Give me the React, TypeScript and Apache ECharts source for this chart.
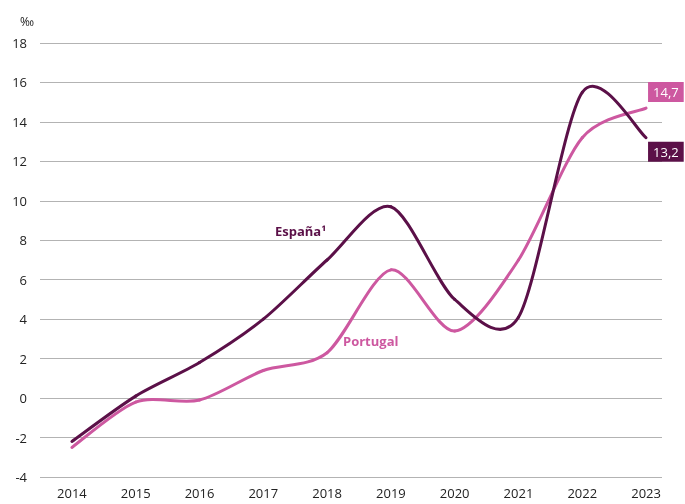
import React, { useEffect, useRef } from "react";
import * as echarts from "echarts";

const years = [2014, 2015, 2016, 2017, 2018, 2019, 2020, 2021, 2022, 2023];
const espana = [-2.2, 0.1, 1.8, 4.0, 7.0, 9.7, 5.0, 4.1, 15.5, 13.2];
const portugal = [-2.5, -0.2, -0.1, 1.4, 2.3, 6.5, 3.4, 7.0, 13.2, 14.7];
const espanaName = "España¹";
const portugalName = "Portugal";

const DARK = "#5b1048";
const PINK = "#cd58a0";
const FONT = "Open Sans";
const TENSION = 1 / 7;

function makeSeries(name: string, vals: number[], color: string, labelDy: number, z: number) {
  return {
    type: "custom",
    name,
    z,
    clip: false,
    data: vals.map((v, i) => [years[i], v]),
    encode: { x: 0, y: 1 },
    renderItem: (params: any, api: any) => {
      const i = params.dataIndex;
      const n = vals.length;
      const P = (k: number) => {
        const kk = Math.max(0, Math.min(n - 1, k));
        return api.coord([years[kk], vals[kk]]);
      };
      const children: any[] = [];
      if (i < n - 1) {
        const p0 = P(i - 1);
        const p1 = P(i);
        const p2 = P(i + 1);
        const p3 = P(i + 2);
        const c1x = p1[0] + (p2[0] - p0[0]) * TENSION;
        const c1y = p1[1] + (p2[1] - p0[1]) * TENSION;
        const c2x = p2[0] - (p3[0] - p1[0]) * TENSION;
        const c2y = p2[1] - (p3[1] - p1[1]) * TENSION;
        children.push({
          type: "bezierCurve",
          shape: {
            x1: p1[0], y1: p1[1],
            cpx1: c1x, cpy1: c1y,
            cpx2: c2x, cpy2: c2y,
            x2: p2[0], y2: p2[1],
          },
          style: { stroke: color, fill: null, lineWidth: 3, lineCap: "round" },
        });
      } else {
        const p = P(i);
        children.push({
          type: "text",
          x: p[0] + 2,
          y: p[1] + labelDy,
          style: {
            text: vals[i].toFixed(1).replace(".", ","),
            fill: "#fff",
            backgroundColor: color,
            padding: [4, 5, 3, 5],
            font: `13px "${FONT}"`,
            align: "left",
            verticalAlign: "middle",
          },
        });
      }
      return { type: "group", children };
    },
  };
}

export default function App() {
  const ref = useRef<HTMLDivElement>(null);
  useEffect(() => {
    if (!ref.current) return;
    const chart = echarts.init(ref.current, null, { renderer: "svg" });
    chart.setOption({
      animation: false,
      grid: { left: 40, right: 23, top: 43, bottom: 27, containLabel: false },
      xAxis: {
        type: "value",
        min: 2013.5,
        max: 2023.25,
        interval: 0.25,
        axisLine: { show: false },
        axisTick: { show: false },
        splitLine: { show: false },
        axisLabel: {
          formatter: (v: number) => (Number.isInteger(v) ? String(v) : ""),
          color: "#222",
          fontFamily: FONT,
          fontSize: 13,
          margin: 9,
          showMinLabel: false,
          showMaxLabel: false,
        },
      },
      yAxis: {
        type: "value",
        min: -4,
        max: 18,
        interval: 2,
        axisLine: { show: false },
        axisTick: { show: false },
        splitLine: { lineStyle: { color: "#b3b3b3", width: 1 } },
        axisLabel: { color: "#222", fontFamily: FONT, fontSize: 13, margin: 13 },
        name: "‰",
        nameLocation: "end",
        nameGap: 16,
        nameTextStyle: { color: "#222", fontFamily: FONT, fontSize: 12, align: "right", padding: [0, 6, 0, 0] },
      },
      series: [
        makeSeries(portugalName, portugal, PINK, -16, 2),
        makeSeries(espanaName, espana, DARK, 14, 3),
      ],
      graphic: [
        {
          type: "text",
          left: 275,
          top: 224,
          style: { text: espanaName, fill: DARK, font: `bold 13px "${FONT}"` },
        },
        {
          type: "text",
          left: 343,
          top: 334,
          style: { text: portugalName, fill: PINK, font: `bold 13px "${FONT}"` },
        },
      ],
    });
    return () => chart.dispose();
  }, []);
  return (
    <div
      ref={ref}
      style={{ position: "fixed", left: 0, top: 0, width: 685, height: 504 }}
    />
  );
}
